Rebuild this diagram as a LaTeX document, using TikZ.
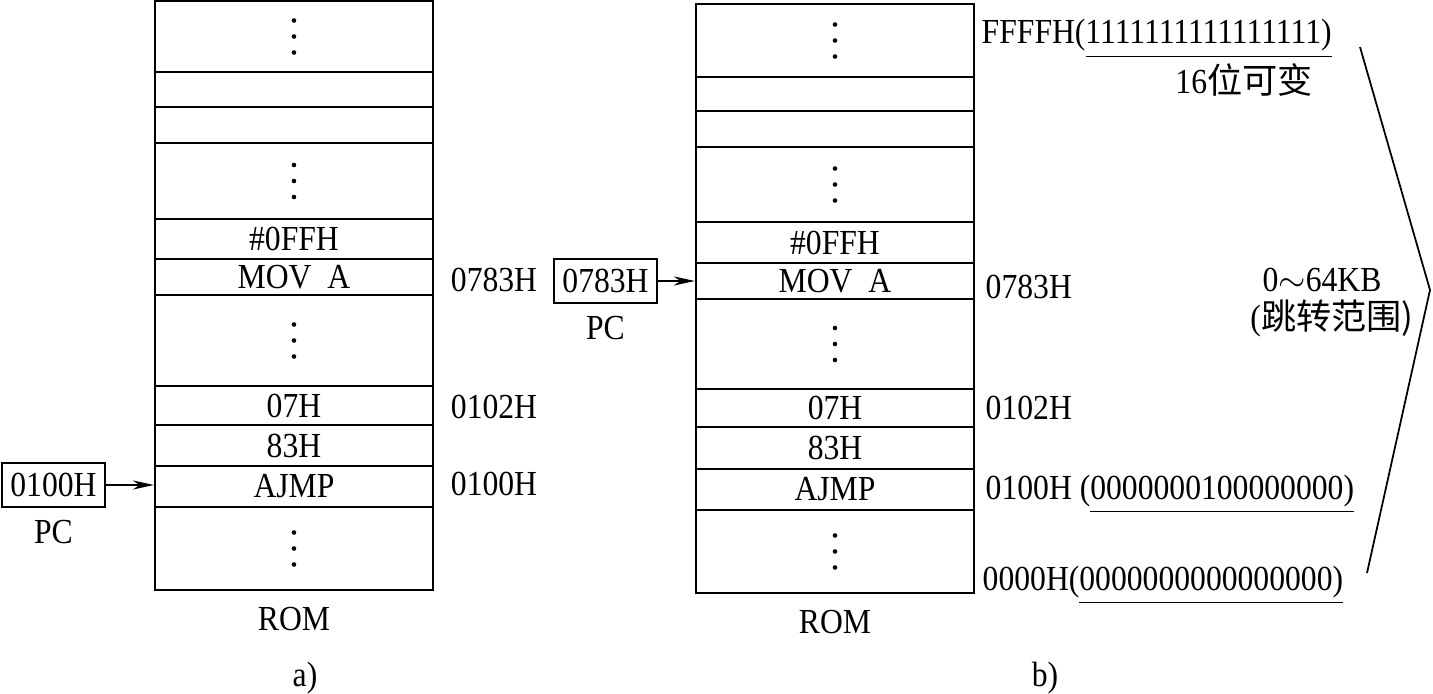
\documentclass[tikz,border=0pt]{standalone}
\usepackage{fontspec}
\setmainfont{Liberation Serif}[FakeStretch=0.9]
\newfontfamily\cjk{Noto Sans CJK SC}
\usetikzlibrary{positioning,arrows.meta}
\tikzset{
    cell/.style={draw, line width=0.6pt, minimum width=2.78cm, inner sep=0pt},
    pcbox/.style={draw, line width=0.6pt, minimum width=1.03cm, minimum height=0.44cm, inner sep=0pt},
    addr/.style={anchor=base west, inner sep=0pt},
    ptr/.style={-{Stealth[length=6pt,width=2.6pt]}, line width=0.5pt},
}
\begin{document}
\begin{tikzpicture}[x=0.01cm, y=-0.01cm, font=\fontsize{10}{12}\selectfont]
    \useasboundingbox (0,0) rectangle (1433,694);

    % a) ROM
    \node[cell, minimum height=0.71cm] (a1) at (294,36.5) {};
    \node[cell, minimum height=0.35cm] (a2) at (294,89.5) {};
    \node[cell, minimum height=0.36cm] (a3) at (294,125) {};
    \node[cell, minimum height=0.76cm] (a4) at (294,181) {};
    \node[cell, minimum height=0.40cm] (a5) at (294,239) {\#0FFH};
    \node[cell, minimum height=0.36cm] (a6) at (294,277) {MOV\ \ A};
    \node[cell, minimum height=0.91cm] (a7) at (294,340.5) {};
    \node[cell, minimum height=0.39cm] (a8) at (294,405.5) {07H};
    \node[cell, minimum height=0.41cm] (a9) at (294,445.5) {83H};
    \node[cell, minimum height=0.41cm] (a10) at (294,486.5) {AJMP};
    \node[cell, minimum height=0.83cm] (a11) at (294,548.5) {};
    \node[below=1pt of a11] (roma) {ROM};

    \node (adra6) at (494,280) {0783H};
    \node (adra8) at (494,407) {0102H};
    \node (adra10) at (494,484) {0100H};

    % a) PC
    \node[pcbox] (pca) at (53.5,485) {0100H};
    \node[below=0pt of pca] (pcla) {PC};
    \draw[ptr] (pca) -- (pca -| a10.west);

    \node (capa) at (305,678) {a)};

    % b) ROM
    \node[cell, minimum height=0.73cm] (b1) at (835,40.5) {};
    \node[cell, minimum height=0.34cm] (b2) at (835,94) {};
    \node[cell, minimum height=0.36cm] (b3) at (835,129) {};
    \node[cell, minimum height=0.75cm] (b4) at (835,184.5) {};
    \node[cell, minimum height=0.41cm] (b5) at (835,242.5) {\#0FFH};
    \node[cell, minimum height=0.36cm] (b6) at (835,281) {MOV\ \ A};
    \node[cell, minimum height=0.90cm] (b7) at (835,344) {};
    \node[cell, minimum height=0.38cm] (b8) at (835,408) {07H};
    \node[cell, minimum height=0.42cm] (b9) at (835,448) {83H};
    \node[cell, minimum height=0.41cm] (b10) at (835,489.5) {AJMP};
    \node[cell, minimum height=0.83cm] (b11) at (835,551.5) {};
    \node[below=1pt of b11] (romb) {ROM};

    % vertical dots
    \foreach \c in {a1,a4,a7,a11,b1,b4,b7,b11}
        \foreach \d in {-16,0,16}
            \fill (\c.center) ++(0,\d) circle (0.65pt);

    \node[addr] (adrb1) at (981,44) {FFFFH(\underline{1111111111111111)}};
    \node[anchor=east] (varb) at (1325,80) {16\cjk{位可变}};
    \node[addr] (adrb6) at (985,298) {0783H};
    \node[addr] (adrb8) at (985,419) {0102H};
    \node[addr] (adrb10) at (985,499) {0100H (\underline{0000000100000000)}};
    \node[addr] (adrb0) at (982,590) {0000H(\underline{0000000000000000)}};

    % b) PC
    \node[pcbox] (pcb) at (605.5,281) {0783H};
    \node[below=0pt of pcb] (pclb) {PC};
    \draw[ptr] (pcb) -- (pcb -| b6.west);

    % jump range
    \draw[line width=0.5pt] (1360,47) -- (1430,290) -- (1367,573);
    \node (rng) at (1322,280) {0$\sim$64KB};
    \node (rngt) at (1332,318) {(\cjk{跳转范围})};

    \node (capb) at (1045,678) {b)};
\end{tikzpicture}
\end{document}
